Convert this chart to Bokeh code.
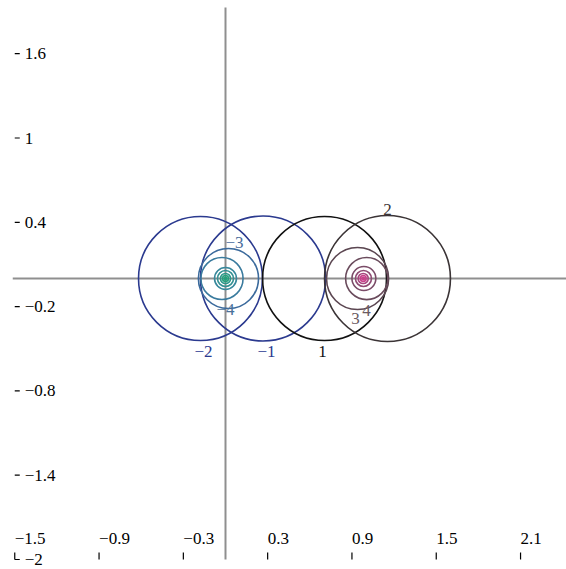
from bokeh.plotting import figure
from bokeh.models import ColumnDataSource, Range1d
from bokeh.core.properties import value
from bokeh.embed import file_html
from bokeh.resources import INLINE

# ---- data ----
# large circles (curves -2, -1, 1, 2)
big_names = ["-2", "-1", "1", "2"]
big_cx = [-0.178, 0.267, 0.705, 1.153]
big_r = [0.441, 0.445, 0.441, 0.448]

# rings converging to the left limit point (curves -3, -4 and inner loops)
left_cx = [0.021, -0.025, 0.0, 0.0, 0.0, 0.0]
left_r = [0.214, 0.150, 0.078, 0.057, 0.036, 0.021]

# rings converging to the right limit point (curves 3, 4 and inner loops)
right_cx = [0.940, 1.005, 0.985, 0.982, 0.980, 0.980]
right_r = [0.221, 0.150, 0.085, 0.057, 0.036, 0.021]

# curve labels
label_text = ["\u22124", "\u22123", "\u22122", "\u22121", "1", "2", "3", "4"]
label_x = [0.0, 0.064, -0.157, 0.292, 0.690, 1.153, 0.925, 1.004]
label_y = [-0.22, 0.256, -0.52, -0.52, -0.52, 0.491, -0.285, -0.228]

# ticks
x_ticks = [-1.5, -0.9, -0.3, 0.3, 0.9, 1.5, 2.1]
x_tick_labels = ["\u22121.5", "\u22120.9", "\u22120.3", "0.3", "0.9", "1.5", "2.1"]
y_ticks = [1.6, 1.0, 0.4, -0.2, -0.8, -1.4, -2.0]
y_tick_labels = ["1.6", "1", "0.4", "\u22120.2", "\u22120.8", "\u22121.4", "\u22122"]

# ---- styles ----
FONT = value("'Liberation Serif', 'Times New Roman', serif")
FSIZE = "17px"
big_colors = ["#2b3a8f", "#2b3a8f", "#111111", "#3b3436"]
left_colors = ["#3b6a9c", "#3a7b9e", "#38889c", "#349193", "#2c988a", "#23a07c"]
right_colors = ["#5b4651", "#6a4b5c", "#7a4b67", "#8e4a72", "#a8467f", "#c8408a"]
label_colors = ["#4a7199", "#4a6c9c", "#2b3a8f", "#2b3a8f", "#111111", "#3b3436",
                "#6b5b62", "#6b5b62"]

SCALE = 140.5
W, H = 566, 569
X0PX, Y0PX = 225, 278   # pixel of the origin inside the figure

p = figure(width=W, height=H, output_backend="svg", toolbar_location=None,
           x_range=Range1d(-X0PX / SCALE, (W - X0PX) / SCALE),
           y_range=Range1d(-(H - Y0PX) / SCALE, Y0PX / SCALE),
           min_border=0, outline_line_color=None)
p.axis.visible = False
p.grid.visible = False
p.background_fill_color = "white"
p.border_fill_color = "white"

xmin, ymin = x_ticks[0], y_ticks[-1]

# axes lines through the origin
p.segment(x0=[xmin - 2 / SCALE], y0=[0], x1=[3.0], y1=[0],
          line_color="#8f8f8f", line_width=2)
p.segment(x0=[0], y0=[ymin], x1=[0], y1=[(Y0PX - 7) / SCALE],
          line_color="#8f8f8f", line_width=2)

# circles
p.circle(x="x", y="y", radius="r", source=ColumnDataSource(dict(
    x=big_cx, y=[0] * len(big_cx), r=big_r, c=big_colors)),
    fill_color=None, line_color="c", line_width=1.6)
p.circle(x="x", y="y", radius="r", source=ColumnDataSource(dict(
    x=left_cx, y=[0] * len(left_cx), r=left_r, c=left_colors)),
    fill_color=None, line_color="c", line_width=1.6)
p.circle(x="x", y="y", radius="r", source=ColumnDataSource(dict(
    x=right_cx, y=[0] * len(right_cx), r=right_r, c=right_colors)),
    fill_color=None, line_color="c", line_width=1.6)
# filled cores
p.circle(x=[left_cx[-1], right_cx[-1]], y=[0, 0], radius=0.012,
         fill_color=[left_colors[-1], right_colors[-1]],
         line_color=[left_colors[-1], right_colors[-1]], line_width=1)

# curve labels
p.text(x="x", y="y", text="t", source=ColumnDataSource(dict(
    x=label_x, y=label_y, t=label_text, c=label_colors)),
    text_color="c", text_font=FONT, text_font_size=FSIZE,
    text_align="center", text_baseline="middle")

# tick marks
TL = 7 / SCALE
p.segment(x0=x_ticks, y0=[ymin] * len(x_ticks), x1=x_ticks,
          y1=[ymin + TL] * len(x_ticks), line_color="black", line_width=1.2)
p.segment(x0=[xmin] * len(y_ticks), y0=y_ticks, x1=[xmin + 5 / SCALE] * len(y_ticks),
          y1=y_ticks, line_color="black", line_width=1.2)

# tick labels
p.text(x=x_ticks, y=[ymin + 21 / SCALE] * len(x_ticks), text=x_tick_labels,
       text_font=FONT, text_font_size=FSIZE,
       text_color="black", text_align="left", text_baseline="middle")
p.text(x=[xmin + 10 / SCALE] * len(y_ticks), y=y_ticks, text=y_tick_labels,
       text_font=FONT, text_font_size=FSIZE,
       text_color="black", text_align="left", text_baseline="middle")

open("out.html", "w").write(file_html(p, INLINE))
